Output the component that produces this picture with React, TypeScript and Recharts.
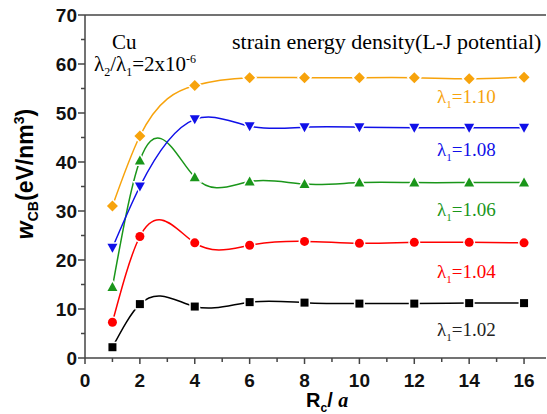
import React from "react";
import { LineChart, Line, XAxis, YAxis, ReferenceLine } from "recharts";

// R_c / a sample points
const rc = [1, 2, 4, 6, 8, 10, 12, 14, 16];

// strain energy density w_CB (eV/nm^3) per lambda_1
const w102 = [2.2, 11.0, 10.5, 11.4, 11.3, 11.1, 11.1, 11.2, 11.2];
const w104 = [7.3, 24.8, 23.5, 23.0, 23.8, 23.4, 23.6, 23.6, 23.5];
const w106 = [14.5, 40.3, 36.9, 36.0, 35.5, 35.8, 35.8, 35.8, 35.8];
const w108 = [22.5, 35.0, 48.7, 47.3, 47.1, 47.1, 47.0, 47.0, 47.0];
const w110 = [31.0, 45.3, 55.6, 57.2, 57.2, 57.2, 57.2, 57.0, 57.3];

const xTicks = [0, 1, 2, 3, 4, 5, 6, 7, 8, 9, 10, 11, 12, 13, 14, 15, 16];
const yTicks = [0, 5, 10, 15, 20, 25, 30, 35, 40, 45, 50, 55, 60, 65, 70];

const data = rc.map((x, i) => ({
  x,
  a: w102[i],
  b: w104[i],
  c: w106[i],
  d: w108[i],
  e: w110[i],
}));

const series = [
  { key: "a", color: "#000000", shape: "square" },
  { key: "b", color: "#ff0000", shape: "circle" },
  { key: "c", color: "#1a961a", shape: "up" },
  { key: "d", color: "#1010e8", shape: "down" },
  { key: "e", color: "#f7a30c", shape: "diamond" },
];

const AXIS = "#444";
const sans = "Arial, 'Liberation Sans', sans-serif";
const serif = "'Liberation Serif', 'Times New Roman', serif";

// natural cubic spline y(x) through the screen points (like Origin's spline connect)
function splineCurve(context: any) {
  let xs: number[] = [];
  let ys: number[] = [];
  return {
    areaStart() {},
    areaEnd() {},
    lineStart() {
      xs = [];
      ys = [];
    },
    point(x: number, y: number) {
      xs.push(+x);
      ys.push(+y);
    },
    lineEnd() {
      const n = xs.length;
      if (n === 0) return;
      context.moveTo(xs[0], ys[0]);
      if (n < 3) {
        for (let i = 1; i < n; i++) context.lineTo(xs[i], ys[i]);
        return;
      }
      const h: number[] = [];
      for (let i = 0; i < n - 1; i++) h.push(xs[i + 1] - xs[i]);
      // tridiagonal solve for second derivatives
      const m = n - 2;
      const a: number[] = [], b: number[] = [], c: number[] = [], r: number[] = [];
      for (let i = 1; i <= m; i++) {
        a.push(h[i - 1]);
        b.push(2 * (h[i - 1] + h[i]));
        c.push(h[i]);
        r.push(6 * ((ys[i + 1] - ys[i]) / h[i] - (ys[i] - ys[i - 1]) / h[i - 1]));
      }
      for (let i = 1; i < m; i++) {
        const w = a[i] / b[i - 1];
        b[i] -= w * c[i - 1];
        r[i] -= w * r[i - 1];
      }
      const M = new Array(n).fill(0);
      for (let i = m - 1; i >= 0; i--) {
        M[i + 1] = (r[i] - (i < m - 1 ? c[i] * M[i + 2] : 0)) / b[i];
      }
      for (let i = 0; i < n - 1; i++) {
        const hi = h[i];
        const s = (ys[i + 1] - ys[i]) / hi;
        const d0 = s - (hi * (2 * M[i] + M[i + 1])) / 6;
        const d1 = s + (hi * (M[i] + 2 * M[i + 1])) / 6;
        context.bezierCurveTo(
          xs[i] + hi / 3,
          ys[i] + (d0 * hi) / 3,
          xs[i + 1] - hi / 3,
          ys[i + 1] - (d1 * hi) / 3,
          xs[i + 1],
          ys[i + 1]
        );
      }
    },
  };
}

const Marker = (shape: string, color: string) => (props: any) => {
  const { cx, cy } = props;
  if (cx == null || cy == null) return null;
  const common = { fill: color, stroke: "#fff", strokeWidth: 3, paintOrder: "stroke" as any };
  if (shape === "square") return <rect x={cx - 4} y={cy - 4} width={8} height={8} {...common} />;
  if (shape === "circle") return <circle cx={cx} cy={cy} r={4.5} {...common} />;
  if (shape === "up")
    return <polygon points={`${cx},${cy - 5} ${cx + 5},${cy + 4} ${cx - 5},${cy + 4}`} {...common} />;
  if (shape === "down")
    return <polygon points={`${cx - 5},${cy - 4} ${cx + 5},${cy - 4} ${cx},${cy + 5}`} {...common} />;
  return <polygon points={`${cx},${cy - 5.5} ${cx + 5.5},${cy} ${cx},${cy + 5.5} ${cx - 5.5},${cy}`} {...common} />;
};

const YTick = (props: any) => {
  const { x, y, payload } = props;
  const major = payload.value % 10 === 0;
  return (
    <g>
      <line x1={x} x2={x - (major ? 7 : 4)} y1={y} y2={y} stroke={AXIS} strokeWidth={1.5} />
      {major && (
        <text x={x - 8} y={y + 7} textAnchor="end" style={{ fontFamily: sans, fontWeight: 700, fontSize: 19 }} fill="#111">
          {payload.value}
        </text>
      )}
    </g>
  );
};

const XTick = (props: any) => {
  const { x, y, payload } = props;
  const major = payload.value % 2 === 0;
  return (
    <g>
      <line x1={x} x2={x} y1={y} y2={y + (major ? 6 : 4)} stroke={AXIS} strokeWidth={1.5} />
      {major && (
        <text x={x} y={y + 29} textAnchor="middle" style={{ fontFamily: sans, fontWeight: 700, fontSize: 19 }} fill="#111">
          {payload.value}
        </text>
      )}
    </g>
  );
};

const subStyle = { fontSize: 11, lineHeight: 0 };

const LambdaLabel = ({ top, color, value }: { top: number; color: string; value: string }) => (
  <div style={{ position: "absolute", left: 437, top, color, fontFamily: serif, fontSize: 19, lineHeight: "22px", whiteSpace: "nowrap" }}>
    λ<sub style={subStyle}>1</sub>={value}
  </div>
);

export default function App() {
  return (
    <div style={{ position: "absolute", left: 0, top: 0, width: 547, height: 414, background: "#fff" }}>
      <LineChart width={547} height={414} data={data} margin={{ top: 15, right: 1, bottom: 11, left: 20 }}>
        <XAxis
          type="number"
          dataKey="x"
          domain={[0, 16.8]}
          ticks={xTicks}
          interval={0}
          tick={<XTick />}
          tickLine={false}
          tickSize={0}
          tickMargin={0}
          height={45}
          axisLine={{ stroke: AXIS, strokeWidth: 1.5 }}
        />
        <YAxis
          type="number"
          domain={[0, 70]}
          ticks={yTicks}
          interval={0}
          tick={<YTick />}
          tickLine={false}
          tickSize={0}
          tickMargin={0}
          width={65}
          axisLine={{ stroke: AXIS, strokeWidth: 1.5 }}
        />
        <ReferenceLine y={70} stroke={AXIS} strokeWidth={1.5} />
        {series.map((s) => (
          <Line
            key={s.key}
            dataKey={s.key}
            type={splineCurve as any}
            stroke={s.color}
            strokeWidth={1.5}
            dot={Marker(s.shape, s.color)}
            activeDot={false}
            isAnimationActive={false}
          />
        ))}
      </LineChart>

      <div style={{ position: "absolute", left: 112, top: 31, fontFamily: serif, fontSize: 21, lineHeight: "22px", whiteSpace: "nowrap" }}>Cu</div>
      <div style={{ position: "absolute", left: 94, top: 53, fontFamily: serif, fontSize: 21, lineHeight: "22px", whiteSpace: "nowrap" }}>
        λ<sub style={{ fontSize: 12, lineHeight: 0 }}>2</sub>/λ<sub style={{ fontSize: 12, lineHeight: 0 }}>1</sub>=2x10
        <sup style={{ fontSize: 12, lineHeight: 0 }}>-6</sup>
      </div>
      <div style={{ position: "absolute", left: 232, top: 31, fontFamily: serif, fontSize: 22, lineHeight: "22px", whiteSpace: "nowrap" }}>
        strain energy density(L-J potential)
      </div>

      <LambdaLabel top={86} color="#f7a30c" value="1.10" />
      <LambdaLabel top={139} color="#1010e8" value="1.08" />
      <LambdaLabel top={199} color="#1a961a" value="1.06" />
      <LambdaLabel top={261} color="#ff0000" value="1.04" />
      <LambdaLabel top={319} color="#222" value="1.02" />

      <div
        style={{
          position: "absolute",
          left: 26,
          top: 174,
          transform: "translate(-50%, -50%) rotate(-90deg)",
          fontFamily: sans,
          fontWeight: "bold",
          fontSize: 23,
          whiteSpace: "nowrap",
        }}
      >
        <i>w</i>
        <sub style={{ fontSize: 14 }}>CB</sub>(eV/nm<sup style={{ fontSize: 14 }}>3</sup>)
      </div>

      <div
        style={{
          position: "absolute",
          left: 306,
          top: 389,
          fontFamily: sans,
          fontWeight: "bold",
          fontSize: 20,
          whiteSpace: "nowrap",
        }}
      >
        R<sub style={{ fontSize: 12 }}>c</sub>/ <i style={{ fontFamily: serif }}>a</i>
      </div>
    </div>
  );
}
